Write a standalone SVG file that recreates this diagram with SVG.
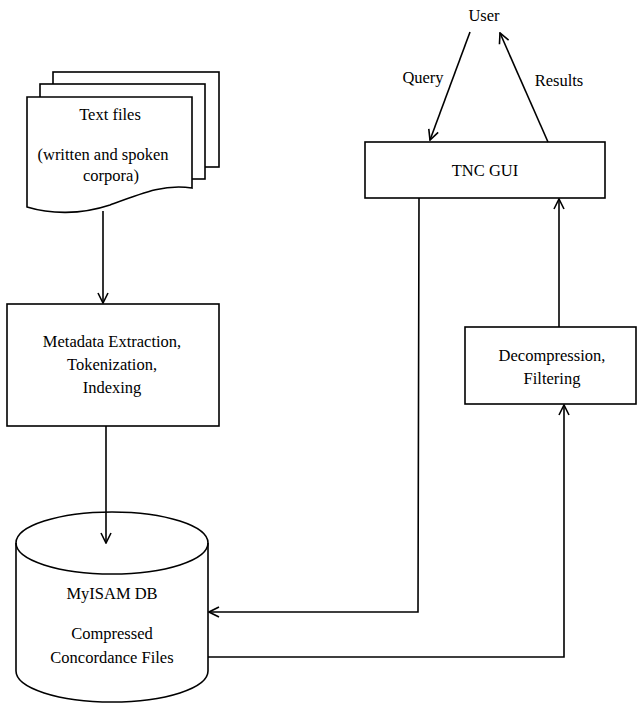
<svg xmlns="http://www.w3.org/2000/svg" width="638" height="703" viewBox="0 0 638 703">
<style>
.shape{fill:#fff;stroke:#000;stroke-width:1.6}
.line{fill:none;stroke:#000;stroke-width:1.6}
text{font-family:"Liberation Serif","Times New Roman",serif;font-size:16.5px;fill:#000;text-anchor:middle}
</style>
<defs>
<marker id="arr" viewBox="0 0 12 12" refX="11" refY="6" markerWidth="12" markerHeight="12" markerUnits="userSpaceOnUse" orient="auto">
<path d="M1,1 L11,6 L1,11" fill="none" stroke="#000" stroke-width="1.6"/>
</marker>
</defs>
<rect width="638" height="703" fill="#fff"/>
<g id="text-files">
<rect class="shape" x="53" y="72" width="166" height="95"/>
<rect class="shape" x="40" y="84" width="165" height="95"/>
<path class="shape" d="M27,97 H192 V188 C165,184 145,192 110,205 C80,215 50,214 27,207 Z"/>
<text x="110" y="120">Text files</text>
<text x="103" y="160">(written and spoken</text>
<text x="111" y="181">corpora)</text>
</g>
<g id="metadata">
<rect class="shape" x="7" y="304" width="212" height="122"/>
<text x="112" y="347">Metadata Extraction,</text>
<text x="112" y="370">Tokenization,</text>
<text x="112" y="393">Indexing</text>
</g>
<g id="myisam">
<path class="shape" d="M16,543 V671 A96,31 0 0 0 208,671 V543 A96,31 0 0 0 16,543 Z"/>
<path class="line" d="M16,543 A96,31 0 0 0 208,543"/>
<text x="112" y="599">MyISAM DB</text>
<text x="112" y="639">Compressed</text>
<text x="112" y="663">Concordance Files</text>
</g>
<g id="user">
<text x="484" y="21">User</text>
</g>
<g id="tnc-gui">
<rect class="shape" x="365" y="142" width="240" height="56"/>
<text x="485" y="176">TNC GUI</text>
</g>
<g id="decompression">
<rect class="shape" x="465" y="327" width="171" height="77"/>
<text x="552" y="361">Decompression,</text>
<text x="552" y="384">Filtering</text>
</g>
<g id="connectors">
<line class="line" x1="103" y1="211" x2="103" y2="303" marker-end="url(#arr)"/>
<line class="line" x1="106" y1="426" x2="106" y2="543" marker-end="url(#arr)"/>
<line class="line" x1="470" y1="32" x2="430" y2="140" marker-end="url(#arr)"/>
<line class="line" x1="548" y1="142" x2="500" y2="33" marker-end="url(#arr)"/>
<polyline class="line" points="419,198 418,612 209,612" marker-end="url(#arr)"/>
<polyline class="line" points="208,657 564,657 564,405" marker-end="url(#arr)"/>
<line class="line" x1="559" y1="327" x2="559" y2="199" marker-end="url(#arr)"/>
<text x="423" y="83">Query</text>
<text x="559" y="86">Results</text>
</g>
</svg>
